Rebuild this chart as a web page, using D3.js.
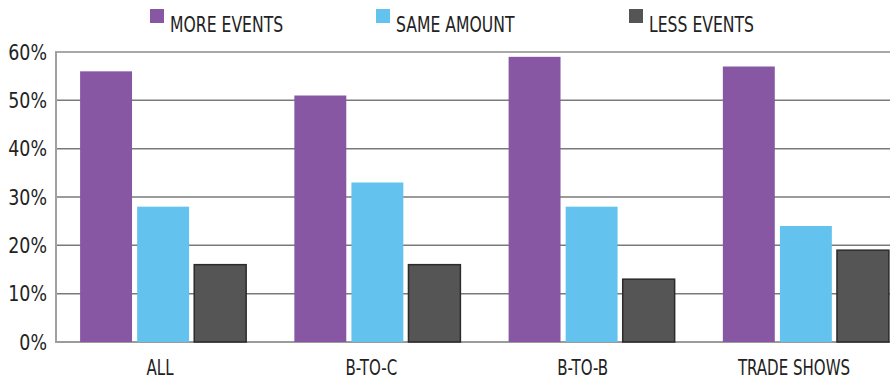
<!DOCTYPE html>
<html>
<head>
<meta charset="utf-8">
<script src="https://cdn.jsdelivr.net/npm/d3@7"></script>
<style>
  body { margin: 0; background: #fff; }
  text { font-family: "Liberation Sans Narrow", "DejaVu Sans Condensed", "Roboto", sans-serif; fill: #222; }
</style>
</head>
<body>
<svg id="chart"></svg>
<script>
// data
var categories = ["ALL", "B-TO-C", "B-TO-B", "TRADE SHOWS"];
var seriesNames = ["MORE EVENTS", "SAME AMOUNT", "LESS EVENTS"];
var moreEvents = [56, 51, 59, 57];
var sameAmount = [28, 33, 28, 24];
var lessEvents = [16, 16, 13, 19];
var yTicks = [0, 10, 20, 30, 40, 50, 60];

var colors = ["#8757a3", "#63c3ee", "#555555"];
var strokes = ["none", "none", "#2b2b2b"];

var width = 890, height = 381;
var plot = { left: 56, right: 890, top: 52, bottom: 342 };

var svg = d3.select("#chart")
  .attr("width", width)
  .attr("height", height);

// squeeze text horizontally to mimic the narrow font of the original
function squeeze(sel, k) {
  sel.each(function() {
    var w = this.getComputedTextLength();
    d3.select(this)
      .attr("textLength", w * k)
      .attr("lengthAdjust", "spacingAndGlyphs");
  });
}

var rows = categories.map(function(c, i) {
  return { cat: c, values: [moreEvents[i], sameAmount[i], lessEvents[i]] };
});

// scales (the bands run past the right edge, as in the original)
var x0 = d3.scaleBand()
  .domain(categories)
  .range([plot.left, plot.left + 857])
  .paddingInner(0.225)
  .paddingOuter(0.1125);

var x1 = d3.scaleBand()
  .domain(d3.range(seriesNames.length))
  .range([0, x0.bandwidth()])
  .paddingInner(0.09);

// labels sit on their own, slightly tighter spacing
var xLabel = d3.scalePoint()
  .domain(categories)
  .range([160, 794]);

var y = d3.scaleLinear()
  .domain([0, 60])
  .range([plot.bottom, plot.top]);

// grid
svg.append("g")
  .selectAll("line")
  .data(yTicks)
  .join("line")
    .attr("x1", plot.left)
    .attr("x2", plot.right)
    .attr("y1", function(d){ return y(d); })
    .attr("y2", function(d){ return y(d); })
    .attr("stroke", function(d){ return d === 60 ? "#a8a8a8" : "#7a7a7a"; })
    .attr("stroke-width", function(d){ return d === 60 ? 2 : 1.5; });

// y axis
var yAxis = d3.axisLeft(y)
  .tickValues(yTicks)
  .tickSize(0)
  .tickPadding(9)
  .tickFormat(function(d){ return d + "%"; });

var gy = svg.append("g")
  .attr("transform", "translate(" + plot.left + ",0)")
  .call(yAxis);
gy.select(".domain").remove();
gy.attr("font-family", null);
gy.selectAll("text")
  .style("font-size", "22px")
  .attr("fill", "#222")
  .call(squeeze, 0.88);

svg.append("line")
  .attr("x1", plot.left).attr("x2", plot.left)
  .attr("y1", plot.top - 1).attr("y2", plot.bottom + 1)
  .attr("stroke", "#a0a0a0")
  .attr("stroke-width", 2);

// bars
var groups = svg.append("g")
  .selectAll("g")
  .data(rows)
  .join("g")
    .attr("transform", function(d){ return "translate(" + x0(d.cat) + ",0)"; });

groups.selectAll("rect")
  .data(function(d){ return d.values; })
  .join("rect")
    .attr("x", function(d, i){ return x1(i); })
    .attr("width", x1.bandwidth())
    .attr("y", function(d){ return y(d); })
    .attr("height", function(d){ return y(0) - y(d); })
    .attr("fill", function(d, i){ return colors[i]; })
    .attr("stroke", function(d, i){ return strokes[i]; })
    .attr("stroke-width", 1.5);

// category labels
svg.append("g")
  .selectAll("text")
  .data(categories)
  .join("text")
    .attr("x", function(d){ return xLabel(d); })
    .attr("y", 375)
    .attr("text-anchor", "middle")
    .style("font-size", "22px")
    .text(function(d){ return d; })
    .call(squeeze, 0.76);

// legend
var legendX = [150, 376, 629];
var legend = svg.append("g")
  .selectAll("g")
  .data(seriesNames)
  .join("g")
    .attr("transform", function(d, i){ return "translate(" + legendX[i] + ",9)"; });

legend.append("rect")
  .attr("width", 14)
  .attr("height", 14)
  .attr("fill", function(d, i){ return colors[i]; });

legend.append("text")
  .attr("x", 20)
  .attr("y", 15)
  .attr("dy", "0.35em")
  .style("font-size", "22px")
  .text(function(d){ return d; })
  .call(squeeze, 0.79);
</script>
</body>
</html>
